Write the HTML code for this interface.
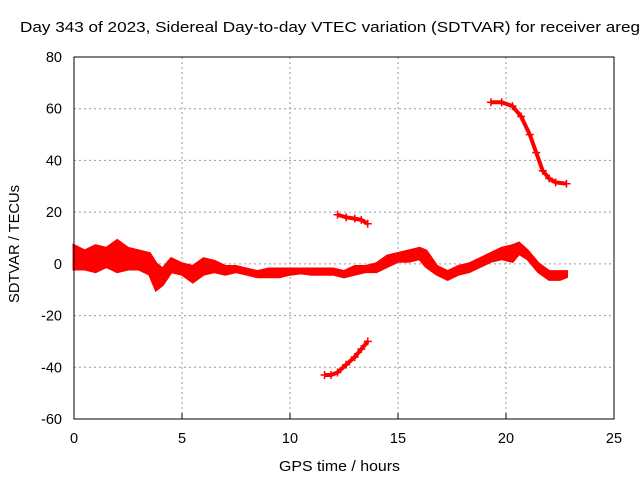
<!DOCTYPE html>
<html><head><meta charset="utf-8"><style>
body{margin:0;background:#fff}
svg{display:block;font-family:"Liberation Sans",sans-serif}
</style></head><body>
<svg id="c" width="640" height="480">
<text x="20" y="32" font-size="14.5" textLength="620" lengthAdjust="spacingAndGlyphs" fill="#000">Day 343 of 2023, Sidereal Day-to-day VTEC variation (SDTVAR) for receiver areg</text>
<text x="279" y="471" font-size="14.5" textLength="121" lengthAdjust="spacingAndGlyphs">GPS time / hours</text>
<text transform="translate(19,303) rotate(-90)" font-size="14.5" textLength="118" lengthAdjust="spacingAndGlyphs">SDTVAR / TECUs</text>
<g id="grid"></g><g id="marks"></g>
<rect x="74" y="57" width="540" height="362" fill="none" stroke="#000" stroke-width="1"/>
</svg>
<script>
const xTicks=[0,5,10,15,20,25];
const yTicks=[-60,-40,-20,0,20,40,60,80];
const bandT=[0,0.5,1,1.5,2,2.5,3,3.5,3.8,4.1,4.5,5,5.5,6,6.5,7,7.5,8,8.5,9,9.5,10,10.5,11,11.5,12,12.5,13,13.5,14,14.5,15,15.5,16,16.3,16.8,17.3,17.8,18.3,18.8,19.3,19.8,20.3,20.6,21,21.5,22,22.5,22.8];
const bandHi=[7,5,7,6,9,6,5,4,0,-2,2,0,-1,2,1,-1,-1,-2,-3,-2,-2,-2,-2,-2,-2,-2,-3,-1,-1,0,3,4,5,6,5,-1,-3,-1,0,2,4,6,7,8,5,0,-3,-3,-3];
const bandLo=[-2,-2,-3,-1,-3,-2,-2,-4,-10,-8,-3,-4,-7,-4,-3,-4,-3,-4,-5,-5,-5,-4,-3.5,-4,-4,-4,-5,-4,-3,-3,-1,1,1,2,-1,-4,-6,-4,-3,-1,1,2,1,4,2,-3,-6,-6,-5];
const upperT=[12.2,12.6,13,13.3,13.6];
const upperV=[19,18,17.5,17,15.5];
const lowerT=[11.6,11.9,12.2,12.6,13,13.3,13.6];
const lowerV=[-43,-43,-42,-39,-36,-33,-30];
const topT=[19.3,19.8,20.3,20.7,21.1,21.4,21.7,22,22.3,22.8];
const topV=[62.5,62.5,61,57,50,43,36,33,31.5,31];
const X=t=>74+t*540/25, Y=v=>419-(v+60)*362/140;
const NS='http://www.w3.org/2000/svg';
const grid=document.getElementById('grid'),marks=document.getElementById('marks');
function mk(tag,a,p){const e=document.createElementNS(NS,tag);for(const k in a)e.setAttribute(k,a[k]);p.appendChild(e);return e;}
xTicks.forEach(t=>{
 if(t>0&&t<25){const g=mk('line',{x1:X(t),x2:X(t),y1:57,y2:419,stroke:'#999','stroke-dasharray':'2,3'},grid);
 
 }
 const tk=mk('line',{x1:X(t),x2:X(t),y1:419,y2:413,stroke:'#000'},grid);
 
 
 const l=mk('text',{x:X(t),y:443,'font-size':14.5,'text-anchor':'middle'},grid);l.textContent=t;
 
 
});
yTicks.forEach(v=>{
 if(v>-60&&v<80){const g=mk('line',{x1:74,x2:614,y1:Y(v),y2:Y(v),stroke:'#999','stroke-dasharray':'2,3'},grid);
 
 }
 const l=mk('text',{x:62,y:Y(v)+5,'font-size':14.5,'text-anchor':'end'},grid);l.textContent=v;
 
 
});
let pts=bandT.map((t,i)=>X(t)+','+Y(bandHi[i]));
for(let i=bandT.length-1;i>=0;i--)pts.push(X(bandT[i])+','+Y(bandLo[i]));
const band=mk('polygon',{points:pts.join(' '),fill:'#f00',stroke:'#f00','stroke-width':3},marks);


function series(T,V,name){
 const p=mk('polyline',{points:T.map((t,i)=>X(t)+','+Y(V[i])).join(' '),fill:'none',stroke:'#f00','stroke-width':4},marks);
 
 
 T.forEach((t,i)=>{const m=mk('path',{d:`M${X(t)-4},${Y(V[i])}h8M${X(t)},${Y(V[i])-4}v8`,stroke:'#f00','stroke-width':1.5},marks);
 
 });
}
series(upperT,upperV,'upper-arc-series');
series(lowerT,lowerV,'lower-arc-series');
series(topT,topV,'top-arc-series');
</script>
</body></html>
